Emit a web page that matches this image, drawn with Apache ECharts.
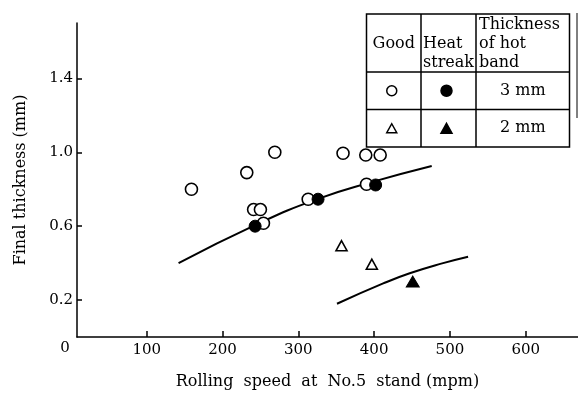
<!DOCTYPE html>
<html>
<head>
<meta charset="utf-8">
<script src="https://cdn.jsdelivr.net/npm/echarts@6/dist/echarts.min.js"></script>
<style>
  html, body { margin: 0; padding: 0; background: #fff; }
  #chart { width: 578px; height: 402px; }
</style>
</head>
<body>
<div id="chart"></div>
<script>
// Final strip thickness vs. rolling speed at No.5 stand
// [speed (mpm), final thickness (mm)]
const good3mm = [
  [159, 0.80], [232, 0.89], [269, 1.00], [241, 0.69], [250, 0.69],
  [254, 0.616], [313, 0.746], [359, 0.995], [389, 0.985], [408, 0.985],
  [390, 0.827]
];
const heatStreak3mm = [[243, 0.60], [326, 0.746], [402, 0.823]];
const good2mm = [[357, 0.494], [397, 0.394]];
const heatStreak2mm = [[451, 0.30]];

// Limit curves for the two hot band thicknesses
const limit3mm = [[142, 0.40], [243, 0.606], [324, 0.745], [399, 0.841], [476, 0.926]];
const limit2mm = [[351, 0.18], [412, 0.29], [447, 0.345], [491, 0.40], [524, 0.435]];

const xTicks = [100, 200, 300, 400, 500, 600];
const yTicks = [0.2, 0.6, 1.0, 1.4];

const xTitle = 'Rolling  speed  at  No.5  stand (mpm)';
const yTitle = 'Final thickness (mm)';

const tableHeader = ['Good', 'Heat\nstreak', 'Thickness\nof hot\nband'];
const tableRows = ['3 mm', '2 mm'];

const FONT = '"DejaVu Serif", "Liberation Serif", serif';
const INK = '#000';

// Legend table geometry
const tx = [366.5, 421, 476, 569.5];
const ty = [14, 72, 109.5, 147];

function txt(text, x, y, align, size, lh) {
  return {
    type: 'text', z: 101,
    style: {
      text: text, x: x, y: y, fill: INK,
      font: (size || 16) + 'px ' + FONT,
      textAlign: align || 'center', textVerticalAlign: 'middle',
      lineHeight: lh || 19
    }
  };
}
function hline(y) {
  return { type: 'line', z: 101, shape: { x1: tx[0], y1: y, x2: tx[3], y2: y },
    style: { stroke: INK, lineWidth: 1.5 } };
}
function vline(x) {
  return { type: 'line', z: 101, shape: { x1: x, y1: ty[0], x2: x, y2: ty[3] },
    style: { stroke: INK, lineWidth: 1.5 } };
}
function tri(cx, cy, s, filled) {
  const h = s * 0.9;
  return { type: 'polygon', z: 102,
    shape: { points: [[cx, cy - h / 2], [cx + s / 2, cy + h / 2], [cx - s / 2, cy + h / 2]] },
    style: { fill: filled ? INK : '#fff', stroke: INK, lineWidth: 1.5 } };
}
function dot(cx, cy, r, filled) {
  return { type: 'circle', z: 102, shape: { cx: cx, cy: cy, r: r },
    style: { fill: filled ? INK : '#fff', stroke: INK, lineWidth: 1.5 } };
}

const c1 = (tx[0] + tx[1]) / 2, c2 = (tx[1] + tx[2]) / 2, c3 = (tx[2] + tx[3]) / 2;
const r1 = (ty[1] + ty[2]) / 2, r2 = (ty[2] + ty[3]) / 2;

const tableGraphics = [
  { type: 'rect', z: 100, shape: { x: tx[0], y: ty[0], width: tx[3] - tx[0], height: ty[3] - ty[0] },
    style: { fill: '#fff', stroke: INK, lineWidth: 1.5 } },
  hline(ty[1]), hline(ty[2]), vline(tx[1]), vline(tx[2]),
  txt(tableHeader[0], c1, 44),
  txt(tableHeader[1], tx[1] + 2, 53.5, 'left'),
  txt(tableHeader[2], tx[2] + 3, 44, 'left'),
  dot(c1 - 2, r1, 5, false), dot(c2 - 2, r1, 5.5, true),
  txt(tableRows[0], c3, r1),
  tri(c1 - 2, r2, 10, false), tri(c2 - 2, r2, 11, true),
  txt(tableRows[1], c3, r2),
  { type: 'line', z: 101, shape: { x1: 577, y1: 13, x2: 577, y2: 118 },
    style: { stroke: INK, lineWidth: 1 } },
  txt('0', 65, 348, 'center', 15)
];

const axisText = { color: INK, fontFamily: FONT, fontSize: 15 };

const chart = echarts.init(document.getElementById('chart'), null, { renderer: 'canvas' });
chart.setOption({
  animation: false,
  backgroundColor: '#fff',
  grid: { left: 77, right: 0, top: 23, bottom: 65 },
  xAxis: {
    type: 'value', min: 8, max: 669,
    name: xTitle, nameLocation: 'middle', nameGap: 37,
    nameTextStyle: { color: INK, fontFamily: FONT, fontSize: 16 },
    axisLine: { lineStyle: { color: INK, width: 1.5 } },
    axisTick: { inside: true, length: 6, customValues: xTicks, lineStyle: { color: INK, width: 1.5 } },
    axisLabel: Object.assign({ customValues: xTicks, margin: 6 }, axisText),
    splitLine: { show: false }
  },
  yAxis: {
    type: 'value', min: 0, max: 1.7,
    name: yTitle, nameLocation: 'middle', nameGap: 48, nameRotate: 90,
    nameTextStyle: { color: INK, fontFamily: FONT, fontSize: 16 },
    axisLine: { lineStyle: { color: INK, width: 1.5 } },
    axisTick: { inside: true, length: 5, customValues: yTicks, lineStyle: { color: INK, width: 1.5 } },
    axisLabel: Object.assign({ customValues: yTicks, margin: 4, formatter: v => v.toFixed(1) }, axisText),
    splitLine: { show: false }
  },
  series: [
    { name: 'limit 3 mm', type: 'line', data: limit3mm, smooth: 0.5,
      showSymbol: false, lineStyle: { color: INK, width: 2 }, z: 2 },
    { name: 'limit 2 mm', type: 'line', data: limit2mm, smooth: 0.5,
      showSymbol: false, lineStyle: { color: INK, width: 2 }, z: 2 },
    { name: 'Good 3 mm', type: 'scatter', data: good3mm, symbol: 'circle', symbolSize: 12,
      itemStyle: { color: '#fff', borderColor: INK, borderWidth: 1.6, opacity: 1 }, z: 3 },
    { name: 'Heat streak 3 mm', type: 'scatter', data: heatStreak3mm, symbol: 'circle', symbolSize: 12,
      itemStyle: { color: INK, borderColor: INK, borderWidth: 1, opacity: 1 }, z: 4 },
    { name: 'Good 2 mm', type: 'scatter', data: good2mm, symbol: 'triangle', symbolSize: [11, 10],
      itemStyle: { color: '#fff', borderColor: INK, borderWidth: 1.6, opacity: 1 }, z: 3 },
    { name: 'Heat streak 2 mm', type: 'scatter', data: heatStreak2mm, symbol: 'triangle', symbolSize: [13, 11],
      itemStyle: { color: INK, borderColor: INK, borderWidth: 1, opacity: 1 }, z: 4 }
  ],
  graphic: tableGraphics
});
</script>
</body>
</html>
